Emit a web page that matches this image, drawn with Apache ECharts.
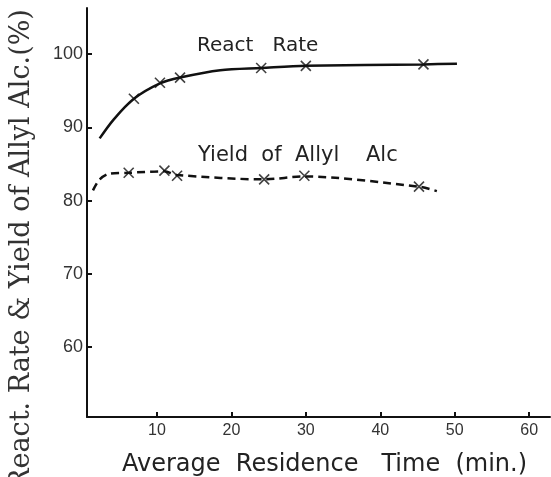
<!DOCTYPE html>
<html>
<head>
<meta charset="utf-8">
<script src="https://cdn.jsdelivr.net/npm/echarts@6/dist/echarts.min.js"></script>
<style>
  html, body { margin: 0; padding: 0; background: #fff; }
  #chart { width: 551px; height: 477px; }
</style>
</head>
<body>
<div id="chart"></div>
<script>
// curve points (x = min, y = %); markers are the "x" points measured
const rateCurve = [[2.3, 88.5], [4.2, 91.1], [6.9, 93.9], [10.4, 96.0], [13.1, 96.8], [18.5, 97.8], [24.0, 98.1], [30.0, 98.4], [45.8, 98.6], [50.3, 98.7]];
const rateMarks = [[6.9, 93.9], [10.4, 96.1], [13.1, 96.8], [24.0, 98.1], [30.0, 98.4], [45.8, 98.6]];
const yieldCurve = [[1.4, 81.4], [2.3, 82.9], [3.7, 83.7], [6.2, 83.8], [11.0, 84.0], [12.7, 83.5], [24.4, 82.9], [29.8, 83.3], [45.2, 81.9], [47.6, 81.3]];
const yieldMarks = [[6.2, 83.8], [11.0, 84.1], [12.7, 83.4], [24.4, 82.9], [29.8, 83.4], [45.2, 81.9]];
const xTicks = [10, 20, 30, 40, 50, 60];
const yTicks = [60, 70, 80, 90, 100];

const crossSymbol = 'path://M0,0L10,10M10,0L0,10';

function initChart() {
  const chart = echarts.init(document.getElementById('chart'));
  const markStyle = { color: 'transparent', borderColor: '#111', borderWidth: 1.6 };
  const option = {
    animation: false,
    grid: { left: 87, right: 1, top: 8, bottom: 60 },
    xAxis: {
      type: 'value',
      min: 0.6, max: 62.8,
      axisLine: { show: true, lineStyle: { color: '#111', width: 2 } },
      axisTick: { show: true, inside: true, length: 5, customValues: xTicks, lineStyle: { color: '#111', width: 2 } },
      axisLabel: { customValues: xTicks, margin: 6, color: '#333', fontFamily: 'Liberation Sans', fontSize: 16 },
      splitLine: { show: false }
    },
    yAxis: {
      type: 'value',
      min: 50.45, max: 106.3,
      axisLine: { show: true, lineStyle: { color: '#111', width: 2 } },
      axisTick: { show: true, inside: true, length: 5, customValues: yTicks, lineStyle: { color: '#111', width: 2 } },
      axisLabel: { customValues: yTicks, margin: 4, color: '#333', fontFamily: 'Liberation Sans', fontSize: 18 },
      splitLine: { show: false }
    },
    series: [
      {
        name: 'React Rate curve', type: 'line', data: rateCurve, smooth: 0.3,
        showSymbol: false, lineStyle: { color: '#111', width: 2.5 }
      },
      {
        name: 'React Rate', type: 'scatter', data: rateMarks, symbol: crossSymbol,
        symbolSize: 10, itemStyle: markStyle
      },
      {
        name: 'Yield curve', type: 'line', data: yieldCurve, smooth: 0.3,
        showSymbol: false, lineStyle: { color: '#111', width: 2.5, type: [8, 5] }
      },
      {
        name: 'Yield of Allyl Alc', type: 'scatter', data: yieldMarks, symbol: crossSymbol,
        symbolSize: 10, itemStyle: markStyle
      }
    ],
    graphic: [
      {
        type: 'text', x: 22, y: 249, rotation: Math.PI / 2,
        style: { text: 'React. Rate & Yield of Allyl Alc.(%)', font: '27px "DejaVu Serif"', fill: '#333', textAlign: 'center', textVerticalAlign: 'middle' }
      },
      {
        type: 'text', x: 122, y: 465,
        style: { text: 'Average  Residence   Time  (min.)', font: '24px "DejaVu Sans"', fill: '#222', textAlign: 'left', textVerticalAlign: 'middle' }
      },
      {
        type: 'text', x: 197, y: 46,
        style: { text: 'React   Rate', font: '20px "DejaVu Sans"', fill: '#222', textAlign: 'left', textVerticalAlign: 'middle' }
      },
      {
        type: 'text', x: 198, y: 156,
        style: { text: 'Yield  of  Allyl    Alc', font: '21px "DejaVu Sans"', fill: '#222', textAlign: 'left', textVerticalAlign: 'middle' }
      }
    ]
  };
  chart.setOption(option);
}

document.addEventListener('DOMContentLoaded', initChart);
</script>
</body>
</html>
